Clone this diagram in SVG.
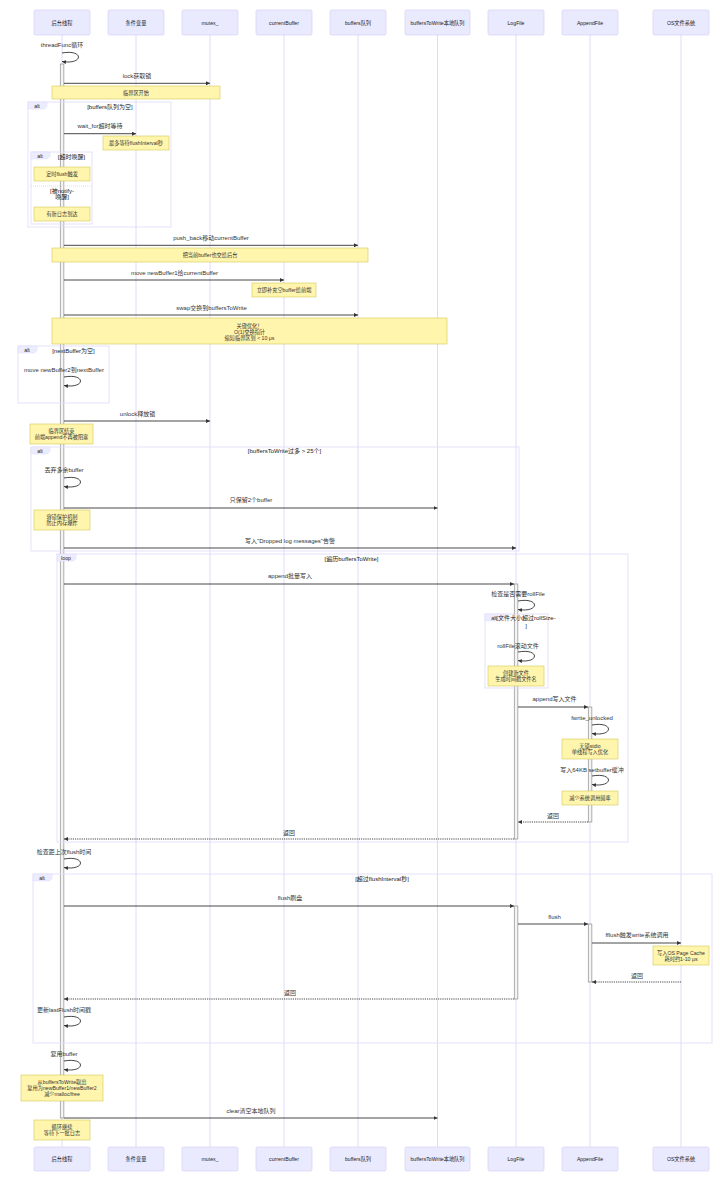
<svg xmlns="http://www.w3.org/2000/svg" width="720" height="1185" viewBox="0 0 720 1185">
<style>
text{font-family:"Liberation Sans","Noto Sans CJK SC",sans-serif;text-anchor:middle;dominant-baseline:central;fill:#333}
.actor{fill:#eaeaff;stroke:#d4cbf3;stroke-width:0.6}
.at{font-size:5.2px;fill:#222}
.life{stroke:#ddd6f7;stroke-width:0.9}
.msg{stroke:#333;stroke-width:0.9;fill:none;marker-end:url(#ah)}
.ret{stroke-dasharray:1.2,1}
.mt{font-size:6px}
.note{fill:#fff5ad;stroke:#d4c95a;stroke-width:0.6}
.nt{font-size:5.2px}
.frame{fill:none;stroke:#e3ddf8;stroke-width:0.9}
.sep{fill:none;stroke:#d8d0f5;stroke-width:0.8;stroke-dasharray:1,1}
.tab{fill:#ececff;stroke:#e3ddf8;stroke-width:0.6}
.ft{font-size:5.2px;fill:#222}
.ct{font-size:6px;fill:#222}
.act{fill:#f4f4f4;stroke:#666;stroke-width:0.5}
</style>
<defs>
<marker id="ah" viewBox="0 0 10 10" refX="10" refY="5" markerWidth="4" markerHeight="4" markerUnits="userSpaceOnUse" orient="auto"><path d="M0,0 L10,5 L0,10 z" fill="#333"/></marker>
</defs>
<rect width="720" height="1185" fill="#fff"/>

<g id="p0"><line class="life" x1="62" y1="35" x2="62" y2="1147"/><rect class="actor" x="34" y="10" width="56" height="25" rx="1.5"/><text class="at" x="62" y="22.5">后台线程</text><rect class="actor" x="34" y="1147" width="56" height="24" rx="1.5"/><text class="at" x="62" y="1159">后台线程</text></g>
<g id="p1"><line class="life" x1="136" y1="35" x2="136" y2="1147"/><rect class="actor" x="108" y="10" width="56" height="25" rx="1.5"/><text class="at" x="136" y="22.5">条件变量</text><rect class="actor" x="108" y="1147" width="56" height="24" rx="1.5"/><text class="at" x="136" y="1159">条件变量</text></g>
<g id="p2"><line class="life" x1="210" y1="35" x2="210" y2="1147"/><rect class="actor" x="182" y="10" width="56" height="25" rx="1.5"/><text class="at" x="210" y="22.5">mutex_</text><rect class="actor" x="182" y="1147" width="56" height="24" rx="1.5"/><text class="at" x="210" y="1159">mutex_</text></g>
<g id="p3"><line class="life" x1="284" y1="35" x2="284" y2="1147"/><rect class="actor" x="256" y="10" width="56" height="25" rx="1.5"/><text class="at" x="284" y="22.5">currentBuffer</text><rect class="actor" x="256" y="1147" width="56" height="24" rx="1.5"/><text class="at" x="284" y="1159">currentBuffer</text></g>
<g id="p4"><line class="life" x1="358" y1="35" x2="358" y2="1147"/><rect class="actor" x="330" y="10" width="56" height="25" rx="1.5"/><text class="at" x="358" y="22.5">buffers队列</text><rect class="actor" x="330" y="1147" width="56" height="24" rx="1.5"/><text class="at" x="358" y="1159">buffers队列</text></g>
<g id="p5"><line class="life" x1="437.5" y1="35" x2="437.5" y2="1147"/><rect class="actor" x="405" y="10" width="65" height="25" rx="1.5"/><text class="at" x="437.5" y="22.5">buffersToWrite本地队列</text><rect class="actor" x="405" y="1147" width="65" height="24" rx="1.5"/><text class="at" x="437.5" y="1159">buffersToWrite本地队列</text></g>
<g id="p6"><line class="life" x1="516" y1="35" x2="516" y2="1147"/><rect class="actor" x="488" y="10" width="56" height="25" rx="1.5"/><text class="at" x="516" y="22.5">LogFile</text><rect class="actor" x="488" y="1147" width="56" height="24" rx="1.5"/><text class="at" x="516" y="1159">LogFile</text></g>
<g id="p7"><line class="life" x1="590" y1="35" x2="590" y2="1147"/><rect class="actor" x="562" y="10" width="56" height="25" rx="1.5"/><text class="at" x="590" y="22.5">AppendFile</text><rect class="actor" x="562" y="1147" width="56" height="24" rx="1.5"/><text class="at" x="590" y="1159">AppendFile</text></g>
<g id="p8"><line class="life" x1="681" y1="35" x2="681" y2="1147"/><rect class="actor" x="653" y="10" width="56" height="25" rx="1.5"/><text class="at" x="681" y="22.5">OS文件系统</text><rect class="actor" x="653" y="1147" width="56" height="24" rx="1.5"/><text class="at" x="681" y="1159">OS文件系统</text></g>

<g id="activations">
<rect class="act" x="60.2" y="64" width="3.7" height="1054"/>
<rect class="act" x="514.2" y="584" width="3.7" height="255"/>
<rect class="act" x="514.2" y="906" width="3.7" height="93"/>
<rect class="act" x="588.2" y="707" width="3.7" height="115"/>
<rect class="act" x="588.2" y="924" width="3.7" height="58"/>
</g>

<g id="notes">
<g id="n1"><rect class="note" x="52" y="86" width="168" height="13"/><text class="nt" x="136" y="92.5">临界区开始</text></g>
<g id="n2"><rect class="note" x="103" y="136" width="66" height="14"/><text class="nt" x="136" y="143">最多等待flushInterval秒</text></g>
<g id="n3"><rect class="note" x="34" y="167" width="56" height="14"/><text class="nt" x="62" y="174">定时flush触发</text></g>
<g id="n4"><rect class="note" x="34" y="207" width="56" height="14"/><text class="nt" x="62" y="214">有新日志到达</text></g>
<g id="n5"><rect class="note" x="52" y="248" width="316" height="14"/><text class="nt" x="210" y="255">把当前buffer也交给后台</text></g>
<g id="n6"><rect class="note" x="252" y="283" width="64" height="14"/><text class="nt" x="284" y="290">立即补充空buffer给前端</text></g>
<g id="n7"><rect class="note" x="52" y="318" width="395" height="26"/><text class="nt" x="249.5" y="325.5">关键优化！</text><text class="nt" x="249.5" y="331.5">O(1)交换指针</text><text class="nt" x="249.5" y="337.5">缩短临界区到 &lt; 10 μs</text></g>
<g id="n8"><rect class="note" x="30" y="424" width="63" height="20"/><text class="nt" x="61.5" y="431">临界区结束</text><text class="nt" x="61.5" y="437">前端append不再被阻塞</text></g>
<g id="n9"><rect class="note" x="34" y="510" width="56" height="20"/><text class="nt" x="62" y="517">容错保护机制</text><text class="nt" x="62" y="523">防止内存爆炸</text></g>
<g id="n10"><rect class="note" x="488" y="666" width="56" height="20"/><text class="nt" x="516" y="673">创建新文件</text><text class="nt" x="516" y="679">生成时间戳文件名</text></g>
<g id="n11"><rect class="note" x="562" y="739" width="56" height="20"/><text class="nt" x="590" y="746">无锁stdio</text><text class="nt" x="590" y="752">单线程写入优化</text></g>
<g id="n12"><rect class="note" x="562" y="791" width="56" height="14"/><text class="nt" x="590" y="798">减少系统调用频率</text></g>
<g id="n13"><rect class="note" x="653" y="946" width="56" height="19"/><text class="nt" x="681" y="952.5">写入OS Page Cache</text><text class="nt" x="681" y="958.5">耗时约1-10 μs</text></g>
<g id="n14"><rect class="note" x="21" y="1075" width="82" height="26"/><text class="nt" x="62" y="1082">从buffersToWrite取出</text><text class="nt" x="62" y="1088">复用为newBuffer1/newBuffer2</text><text class="nt" x="62" y="1094">减少malloc/free</text></g>
<g id="n15"><rect class="note" x="34" y="1120" width="56" height="20"/><text class="nt" x="62" y="1127">循环继续</text><text class="nt" x="62" y="1133">等待下一批日志</text></g>
</g>

<g id="frames">
<rect class="frame" x="28" y="102" width="143" height="125"/><path class="tab" d="M28,102 H47 V106.5 L44.5,109 H28 Z"/><text class="ft" x="37" y="105.5">alt</text><text class="ct" x="110" y="107">[buffers队列为空]</text>
<rect class="frame" x="31" y="152" width="61" height="72"/><path class="tab" d="M31,152 H50 V156.5 L47.5,159 H31 Z"/><text class="ft" x="40" y="155.5">alt</text><text class="ct" x="71.5" y="157">[超时唤醒]</text>
<line class="sep" x1="31" y1="186" x2="92" y2="186"/><text class="ct" x="62" y="191">[被notify-</text><text class="ct" x="62" y="197">唤醒]</text>
<rect class="frame" x="18" y="346" width="91" height="57"/><path class="tab" d="M18,346 H37 V350.5 L34.5,353 H18 Z"/><text class="ft" x="27" y="349.5">alt</text><text class="ct" x="73.5" y="351">[nextBuffer为空]</text>
<rect class="frame" x="31" y="447" width="488" height="104"/><path class="tab" d="M31,447 H50 V451.5 L47.5,454 H31 Z"/><text class="ft" x="40" y="450.5">alt</text><text class="ct" x="284.5" y="451">[buffersToWrite过多 &gt; 25个]</text>
<rect class="frame" x="57" y="554" width="571" height="288"/><path class="tab" d="M57,554 H76 V558.5 L73.5,561 H57 Z"/><text class="ft" x="66" y="557.5">loop</text><text class="ct" x="351.5" y="559">[遍历buffersToWrite]</text>
<rect class="frame" x="485" y="614" width="63" height="74"/><path class="tab" d="M485,614 H504 V618.5 L501.5,621 H485 Z"/><text class="ft" x="494" y="617.5">alt</text><text class="ct" x="526" y="618">[文件大小超过rollSize-</text><text class="ct" x="526" y="626">]</text>
<rect class="frame" x="33" y="874" width="679" height="169"/><path class="tab" d="M33,874 H52 V878.5 L49.5,881 H33 Z"/><text class="ft" x="42" y="877.5">alt</text><text class="ct" x="382" y="879">[超过flushInterval秒]</text>
</g>

<g id="connectors">
<path class="msg" d="M62,53 C84,49 84,65 62,61.5"/><text class="mt" x="62" y="45">threadFunc循环</text>
<line class="msg" x1="64" y1="83.3" x2="210" y2="83.3"/><text class="mt" x="137" y="76">lock获取锁</text>
<line class="msg" x1="64" y1="133.7" x2="136" y2="133.7"/><text class="mt" x="100" y="126">wait_for超时等待</text>
<line class="msg" x1="64" y1="245.3" x2="358" y2="245.3"/><text class="mt" x="211" y="238">push_back移动currentBuffer</text>
<line class="msg" x1="64" y1="280" x2="284" y2="280"/><text class="mt" x="174.5" y="273">move newBuffer1给currentBuffer</text>
<line class="msg" x1="64" y1="315" x2="358" y2="315"/><text class="mt" x="211.5" y="308">swap交换到buffersToWrite</text>
<path class="msg" d="M64,377 C86,373 86,389 64,385.5"/><text class="mt" x="64" y="370">move newBuffer2到nextBuffer</text>
<line class="msg" x1="64" y1="421" x2="210" y2="421"/><text class="mt" x="137.5" y="414">unlock释放锁</text>
<path class="msg" d="M64,478 C86,474 86,490 64,486.5"/><text class="mt" x="64" y="470">丢弃多余buffer</text>
<line class="msg" x1="64" y1="508" x2="437.5" y2="508"/><text class="mt" x="251" y="500">只保留2个buffer</text>
<line class="msg" x1="64" y1="548" x2="516" y2="548"/><text class="mt" x="290" y="541">写入"Dropped log messages"告警</text>
<line class="msg" x1="64" y1="584" x2="514" y2="584"/><text class="mt" x="290" y="576">append批量写入</text>
<path class="msg" d="M518,601 C540,597 540,613 518,609.5"/><text class="mt" x="518" y="594">检查是否需要rollFile</text>
<path class="msg" d="M518,652 C540,648 540,664 518,660.5"/><text class="mt" x="518" y="646">rollFile滚动文件</text>
<line class="msg" x1="518" y1="707" x2="588" y2="707"/><text class="mt" x="554.5" y="699">append写入文件</text>
<path class="msg" d="M592,725 C614,721 614,737 592,733.5"/><text class="mt" x="592" y="718">fwrite_unlocked</text>
<path class="msg" d="M592,776 C614,772 614,788 592,784.5"/><text class="mt" x="592" y="770">写入64KB setbuffer缓冲</text>
<line class="msg ret" x1="588" y1="822" x2="518" y2="822"/><text class="mt" x="553" y="816">返回</text>
<line class="msg ret" x1="514" y1="839" x2="64" y2="839"/><text class="mt" x="289" y="833">返回</text>
<path class="msg" d="M64,859 C86,855 86,871 64,867.5"/><text class="mt" x="64" y="852">检查距上次flush时间</text>
<line class="msg" x1="64" y1="906" x2="514" y2="906"/><text class="mt" x="290" y="898">flush刷盘</text>
<line class="msg" x1="518" y1="924" x2="588" y2="924"/><text class="mt" x="554.5" y="917">flush</text>
<line class="msg" x1="592" y1="943" x2="681" y2="943"/><text class="mt" x="637" y="935">fflush触发write系统调用</text>
<line class="msg ret" x1="681" y1="982" x2="592" y2="982"/><text class="mt" x="637" y="976">返回</text>
<line class="msg ret" x1="514" y1="999" x2="64" y2="999"/><text class="mt" x="290" y="993">返回</text>
<path class="msg" d="M64,1017 C86,1013 86,1029 64,1025.5"/><text class="mt" x="64" y="1010">更新lastFlush时间戳</text>
<path class="msg" d="M64,1061 C86,1057 86,1073 64,1069.5"/><text class="mt" x="64" y="1054">复用buffer</text>
<line class="msg" x1="64" y1="1118" x2="437.5" y2="1118"/><text class="mt" x="251" y="1111">clear清空本地队列</text>
</g>
</svg>
